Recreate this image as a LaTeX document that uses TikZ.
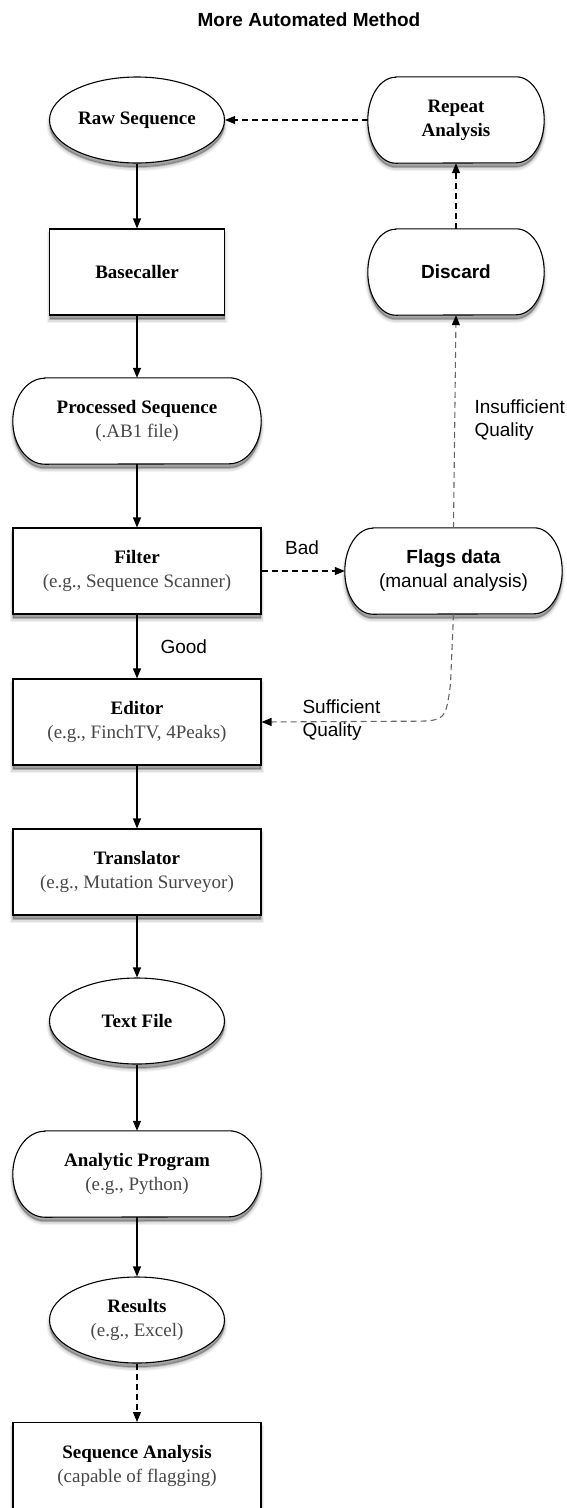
\documentclass[tikz,border=0pt]{standalone}
\usepackage{fontspec}
\setmainfont{Liberation Serif}
\setsansfont{Liberation Sans}
\usetikzlibrary{arrows.meta,shapes.geometric,calc}
\definecolor{subtext}{gray}{0.28}
\definecolor{dimline}{gray}{0.4}
\tikzset{
  x=1pt,y=1pt,
  every node/.style={font=\fontsize{19}{24}\selectfont},
  shad/.style={
    preaction={fill=black, draw=black, line width=6pt, opacity=0.05, transform canvas={yshift=-5pt}},
    preaction={fill=black, draw=black, line width=3.5pt, opacity=0.08, transform canvas={yshift=-5pt}},
    preaction={fill=black, draw=black, line width=1.5pt, opacity=0.12, transform canvas={yshift=-4pt}},
    preaction={fill=black, opacity=0.15, transform canvas={yshift=-4pt}}},
  boxnode/.style={draw, fill=white, line width=1.1pt, rectangle, minimum width=248, minimum height=86, align=center, shad},
  ovalnode/.style={draw, fill=white, line width=1.1pt, ellipse, minimum width=175, minimum height=86, inner sep=0pt, align=center, shad},
  pillline/.style={draw, fill=white, line width=1.1pt, shad},
  arr/.style={line width=1.1pt, -{Triangle[length=10pt,width=8pt,color=black]}},
  darr/.style={arr, dash pattern=on 6pt off 4pt},
  garr/.style={darr, draw=dimline},
  lbl/.style={font=\fontsize{19}{23}\selectfont\sffamily, align=left}
}
\newcommand\pillnode[6]{%
  \node[minimum width=#4, minimum height=86, inner sep=0pt, draw=none] (#1) at (#2,#3) {};
  \path[pillline] ($(#1.north west)+(#5,0)$) -- ($(#1.north east)+(-#5,0)$)
    arc[start angle=90, end angle=-90, x radius=#5, y radius=43]
    -- ($(#1.south west)+(#5,0)$)
    arc[start angle=270, end angle=90, x radius=#5, y radius=43] -- cycle;
  \node[align=center] (#1-t) at (#1) {#6};
}
\begin{document}
\begin{tikzpicture}
\useasboundingbox (0,0) rectangle (566,-1508);
\clip (0,0) rectangle (566,-1508);

\node (title) at (309,-20) {\sffamily\bfseries More Automated Method};

% left column
\node[ovalnode] (raw) at (137,-120) {\textbf{Raw Sequence}};
\node[boxnode, minimum width=175] (base) at (137,-272) {\textbf{Basecaller}};
\pillnode{proc}{137}{-421}{248}{32}{\textbf{Processed Sequence}\\{\color{subtext}(.AB1 file)}}
\node[boxnode] (filter) at (137,-571) {\textbf{Filter}\\{\color{subtext}(e.g., Sequence Scanner)}};
\node[boxnode] (editor) at (137,-722) {\textbf{Editor}\\{\color{subtext}(e.g., FinchTV, 4Peaks)}};
\node[boxnode] (trans) at (137,-872) {\textbf{Translator}\\{\color{subtext}(e.g., Mutation Surveyor)}};
\node[ovalnode] (text) at (137,-1021) {\textbf{Text File}};
\pillnode{analytic}{137}{-1174}{248}{32}{\textbf{Analytic Program}\\{\color{subtext}(e.g., Python)}}
\node[ovalnode] (results) at (137,-1320) {\textbf{Results}\\{\color{subtext}(e.g., Excel)}};
\node[boxnode, anchor=north, minimum height=100] (sa) at (137,-1422) {};
\node[align=center] (sa-t) at (137,-1466) {\textbf{Sequence Analysis}\\{\color{subtext}(capable of flagging)}};

% right column
\pillnode{repeat}{456}{-120}{176}{28}{\textbf{Repeat}\\\textbf{Analysis}}
\pillnode{discard}{456}{-272}{176}{28}{\textsf{\textbf{Discard}}}
\pillnode{flags}{453.5}{-571}{217}{28}{\textsf{\textbf{Flags data}}\\\textsf{(manual analysis)}}

% connectors
\draw[arr] (raw.south) -- (base.north);
\draw[arr] (base.south) -- (proc.north);
\draw[arr] (proc.south) -- (filter.north);
\draw[arr] (filter.south) -- (editor.north);
\draw[arr] (editor.south) -- (trans.north);
\draw[arr] (trans.south) -- (text.north);
\draw[arr] (text.south) -- (analytic.north);
\draw[arr] (analytic.south) -- (results.north);
\draw[darr] (results.south) -- (sa.north);

\draw[darr] (filter.east) -- (flags.west);
\draw[garr] (flags.north) -- (discard.south);
\draw[darr] (discard.north) -- (repeat.south);
\draw[darr] (repeat.west) -- (raw.east);
\draw[garr] (flags.south) -- ++(-3,-70) .. controls ($(flags.south)+(-8,-107)$) .. ($(flags.south)+(-45,-107)$) -- (editor.east);

% labels
\node[lbl] (bad) at (302,-548) {Bad};
\node[lbl, anchor=west] (good) at (157,-647) {Good};
\node[lbl, anchor=west] (insuf) at (471,-420) {Insufficient\\Quality};
\node[lbl, anchor=west] (suf) at (299,-720) {Sufficient\\Quality};
\end{tikzpicture}
\end{document}
